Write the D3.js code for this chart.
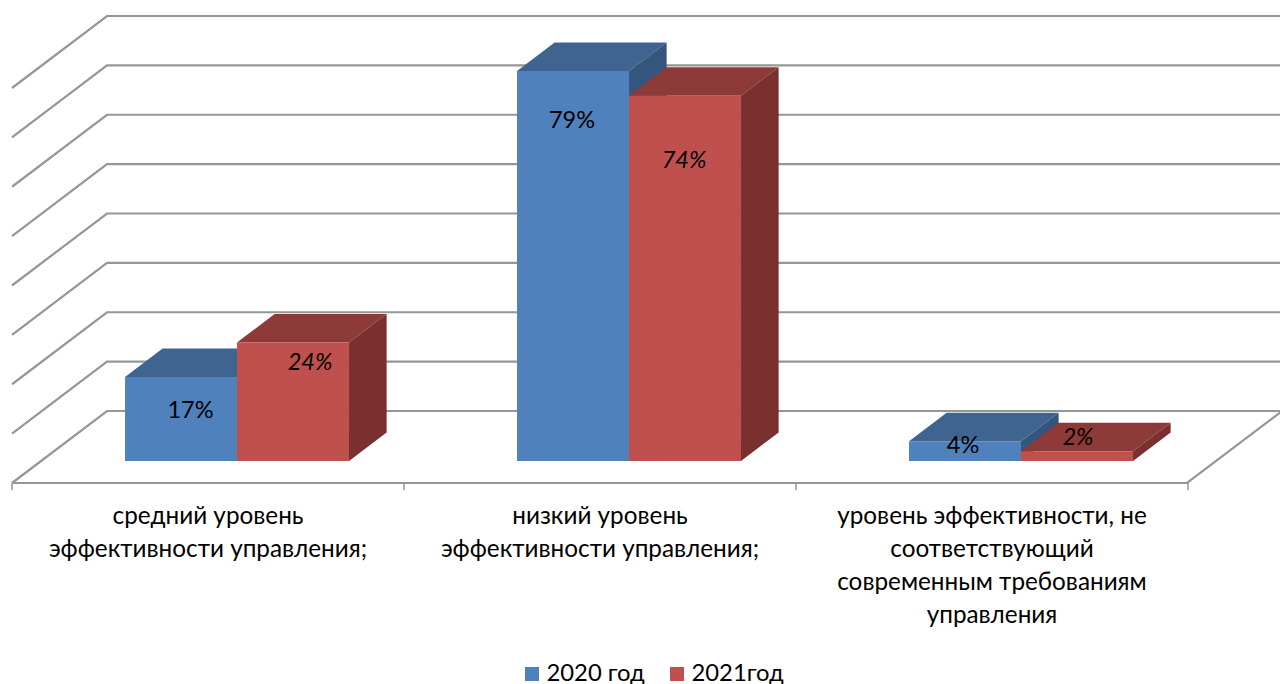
<!DOCTYPE html>
<html><head><meta charset="utf-8">
<script src="https://cdn.jsdelivr.net/npm/d3@7/dist/d3.min.js"></script>
<style>html,body{margin:0;padding:0;background:#fff}svg{display:block}text{font-family:Lato,"Open Sans",sans-serif;fill:#000}</style>
</head><body><svg id="c" width="1280" height="684"></svg>
<script>
const categories=[["средний уровень","эффективности управления;"],["низкий уровень","эффективности управления;"],["уровень эффективности, не","соответствующий","современным требованиям","управления"]];
const seriesNames=["2020 год","2021год"];
const values2020=[17,79,4];
const values2021=[24,74,2];
const valueLabels2020=["17%","79%","4%"];
const valueLabels2021=["24%","74%","2%"];
const gridTicks=[0,10,20,30,40,50,60,70,80];
const seriesColors=[{front:"#4F81BD",top:"#3E648F",side:"#34567D"},{front:"#C0504D",top:"#8E3A38",side:"#7A302F"}];

const svg=d3.select("#c");
const x=d3.scaleBand().domain(d3.range(categories.length)).range([12,1188]);
const inner=d3.scaleBand().domain([0,1]).range([0,224]);
const y=d3.scaleLinear().domain([0,80]).range([483,88]);
const depthX=95,depthY=-72;
const p=(px,v,d)=>[px+d*depthX,y(v)+d*depthY];
const front=22/72,back=50.5/72;
const grid=svg.append("g").attr("fill","none").attr("stroke","#969696").attr("stroke-width",2.2);
const ln=d3.line();
gridTicks.forEach(t=>{
  grid.append("path").attr("d",ln([p(12,t,0),p(12,t,1),p(1185,t,1)]));
});
grid.append("path").attr("d",ln([p(12,0,0),p(1187,0,0),p(1187,0,1)]));
d3.range(categories.length+1).forEach(i=>{
  const px=12+i*x.bandwidth();
  grid.append("line").attr("x1",px).attr("x2",px).attr("y1",483).attr("y2",490).attr("stroke-width",1.5);
});
const bars=svg.append("g");
const labels=svg.append("g").attr("font-size",23.5).attr("text-anchor","middle");
// label placement relative to the centre of each bar's front face and its top edge
const labelShift=[[[9.5,41],[-1,57],[-2,12]],[[17,27],[-1,72],[1,-6]]];
[[values2020,valueLabels2020],[values2021,valueLabels2021]].forEach(([vals,labs],s)=>{
  vals.forEach((v,i)=>{
    const x0=x(i)+84+inner(s), x1=x0+inner.bandwidth(), c=seriesColors[s];
    const poly=(pts,f)=>bars.append("polygon").attr("points",pts.map(q=>q.join(",")).join(" ")).attr("fill",f);
    poly([p(x0,v,front),p(x0,v,back),p(x1,v,back),p(x1,v,front)],c.top);
    poly([p(x1,0,front),p(x1,v,front),p(x1,v,back),p(x1,0,back)],c.side);
    poly([p(x0,0,front),p(x0,v,front),p(x1,v,front),p(x1,0,front)],c.front);
    const [dx,dy]=labelShift[s][i];
    const a=p(x0,v,front), b=p(x1,v,front);
    labels.append("text").attr("x",(a[0]+b[0])/2+dx).attr("y",a[1]+dy)
      .attr("font-style",s==1?"italic":"normal").text(labs[i]);
  });
});
const axis=svg.append("g").attr("font-size",24.3).attr("text-anchor","middle");
categories.forEach((lines,i)=>{
  lines.forEach((t,j)=>axis.append("text").attr("x",x(i)+x.bandwidth()/2).attr("y",524+j*33).text(t));
});
const legendX=[525,670];
const legend=svg.append("g").attr("font-size",23.8);
seriesNames.forEach((n,i)=>{
  legend.append("rect").attr("x",legendX[i]).attr("y",667).attr("width",14).attr("height",14).attr("fill",seriesColors[i].front);
  legend.append("text").attr("x",legendX[i]+21.5).attr("y",680.5).text(n);
});
</script></body></html>
